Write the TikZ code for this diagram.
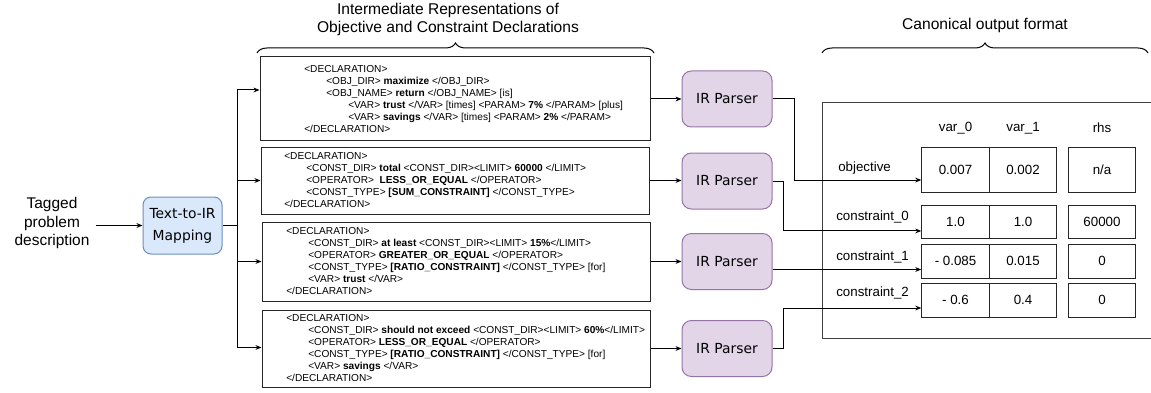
\documentclass[tikz,border=0pt]{standalone}
\usepackage{fontspec}
\setmainfont{Liberation Sans}
\newfontfamily\dvfont{DejaVu Sans}
\usetikzlibrary{arrows.meta,calc,decorations.pathreplacing}
\definecolor{mapfill}{HTML}{DAE8FC}
\definecolor{mapdraw}{HTML}{6C8EBF}
\definecolor{irfill}{HTML}{E1D5E7}
\definecolor{irdraw}{HTML}{9673A6}
\newcommand{\ind}{\hspace*{16.5pt}}
\begin{document}
\begin{tikzpicture}[x=0.75pt,y=-0.75pt,
  declbox/.style={draw=black!85, line width=0.75pt, inner sep=0},
  decltext/.style={anchor=west, align=left, inner sep=0, font=\fontsize{7.6}{9}\selectfont},
  parser/.style={draw=irdraw, fill=irfill, rounded corners=7pt, minimum width=67.5pt, minimum height=42pt, line width=0.75pt, font=\dvfont\fontsize{10.4}{12}\selectfont},
  cell/.style={draw=black!85, line width=0.75pt, minimum width=50.6pt, inner sep=0, font=\fontsize{10}{12}\selectfont},
  lbl/.style={inner sep=0, font=\fontsize{10}{12}\selectfont},
  title/.style={align=center, inner sep=0, font=\fontsize{11.7}{13.5}\selectfont},
  arr/.style={-{Stealth[length=4.5pt,width=3.6pt]}, line width=0.75pt},
  conn/.style={line width=0.75pt},
  bracestyle/.style={decorate, decoration={brace, amplitude=7.5pt}, line width=0.75pt}
]
\clip (0,0) rectangle (1151,392);

% left part
\node[title, font=\fontsize{11.6}{13.9}\selectfont] (tag) at (52,223) {Tagged\\problem\\description};
\node[draw=mapdraw, fill=mapfill, rounded corners=6pt, line width=0.75pt, minimum width=59.25pt, minimum height=42.75pt, align=center, inner sep=0, font=\dvfont\fontsize{10.4}{16.5}\selectfont] (map) at (182.5,225.5) {Text-to-IR\\Mapping};

% IR boxes
\node[declbox, minimum width=292.5pt, minimum height=63pt] (box1) at (455,99) {};
\node[declbox, minimum width=291pt, minimum height=50.25pt] (box2) at (455,180.5) {};
\node[declbox, minimum width=291pt, minimum height=59.25pt] (box3) at (456,261.5) {};
\node[declbox, minimum width=291pt, minimum height=57.75pt] (box4) at (456,348.5) {};

\node[decltext] (t1) at (304,99) {<DECLARATION>\\
\ind <OBJ\_DIR> \textbf{maximize} </OBJ\_DIR>\\
\ind <OBJ\_NAME> \textbf{return} </OBJ\_NAME> [is]\\
\ind\ind <VAR> \textbf{trust} </VAR> [times] <PARAM> \textbf{7\%} </PARAM> [plus]\\
\ind\ind <VAR> \textbf{savings} </VAR> [times] <PARAM> \textbf{2\%} </PARAM>\\
</DECLARATION>};

\node[decltext] (t2) at (284,180.5) {<DECLARATION>\\
\ind <CONST\_DIR> \textbf{total} <CONST\_DIR><LIMIT> \textbf{60000} </LIMIT>\\
\ind <OPERATOR>\ \ \textbf{LESS\_OR\_EQUAL} </OPERATOR>\\
\ind <CONST\_TYPE> \textbf{[SUM\_CONSTRAINT]} </CONST\_TYPE>\\
</DECLARATION>};

\node[decltext] (t3) at (286,261.5) {<DECLARATION>\\
\ind <CONST\_DIR> \textbf{at least} <CONST\_DIR><LIMIT> \textbf{15\%}</LIMIT>\\
\ind <OPERATOR> \textbf{GREATER\_OR\_EQUAL} </OPERATOR>\\
\ind <CONST\_TYPE> \textbf{[RATIO\_CONSTRAINT]} </CONST\_TYPE> [for]\\
\ind <VAR> \textbf{trust} </VAR>\\
</DECLARATION>};

\node[decltext] (t4) at (286,348) {<DECLARATION>\\
\ind <CONST\_DIR> \textbf{should not exceed} <CONST\_DIR><LIMIT> \textbf{60\%}</LIMIT>\\
\ind <OPERATOR> \textbf{LESS\_OR\_EQUAL} </OPERATOR>\\
\ind <CONST\_TYPE> \textbf{[RATIO\_CONSTRAINT]} </CONST\_TYPE> [for]\\
\ind <VAR> \textbf{savings} </VAR>\\
</DECLARATION>};

% titles and braces
\node[title] (ttl1) at (448,19) {Intermediate Representations of\\Objective and Constraint Declarations};
\node[title] (ttl2) at (985,25) {Canonical output format};
\coordinate (b1l) at (257,53);
\coordinate (b1r) at (654,53);
\coordinate (b2l) at (822,53);
\coordinate (b2r) at (1148,53);
\draw[bracestyle] (b1l) -- (b1r);
\draw[bracestyle] (b2l) -- (b2r);

% parsers
\node[parser] (p1) at (727,99) {IR Parser};
\node[parser] (p2) at (727,181) {IR Parser};
\node[parser] (p3) at (727,261.5) {IR Parser};
\node[parser] (p4) at (727,348.5) {IR Parser};

% output frame
\node[draw=black!75, line width=0.75pt, minimum width=253.5pt, minimum height=176.25pt, inner sep=0] (out) at (991,220.5) {};

% table
\node[lbl] (h0) at (955.5,128) {var\_0};
\node[lbl] (h1) at (1023,128) {var\_1};
\node[lbl] (h2) at (1102,128) {rhs};

\node[cell, minimum height=33.75pt] (c00) at (955.5,169.5) {0.007};
\node[cell, minimum height=33.75pt] (c01) at (1023,169.5) {0.002};
\node[cell, minimum height=33.75pt] (c02) at (1102,169.5) {n/a};
\node[cell, minimum height=24.75pt] (c10) at (955.5,221.5) {1.0};
\node[cell, minimum height=24.75pt] (c11) at (1023,221.5) {1.0};
\node[cell, minimum height=24.75pt] (c12) at (1102,221.5) {60000};
\node[cell, minimum height=25.5pt] (c20) at (955.5,261) {- 0.085};
\node[cell, minimum height=25.5pt] (c21) at (1023,261) {0.015};
\node[cell, minimum height=25.5pt] (c22) at (1102,261) {0};
\node[cell, minimum height=25.5pt] (c30) at (955.5,300) {- 0.6};
\node[cell, minimum height=25.5pt] (c31) at (1023,300) {0.4};
\node[cell, minimum height=25.5pt] (c32) at (1102,300) {0};

\node[lbl, anchor=west] (r0) at (838,168) {objective};
\node[lbl, anchor=west] (r1) at (836,217) {constraint\_0};
\node[lbl, anchor=west] (r2) at (836,257) {constraint\_1};
\node[lbl, anchor=west] (r3) at (836,293) {constraint\_2};

% connectors
\coordinate (j) at (237,225.5);
\draw[arr] ($(tag.east |- map.west)+(6,0)$) -- (map.west);
\draw[conn] (map.east) -- (j);
\draw[arr] (j) |- ([yshift=6.75pt]box1.west);
\draw[arr] (j) |- (box2.west);
\draw[arr] (j) |- (box3.west);
\draw[arr] (j) |- ([yshift=0.75pt]box4.west);

\draw[arr] (box1.east) -- (p1.west);
\draw[arr] (box2.east) -- (box2.east -| p2.west);
\draw[arr] (box3.east) -- (box3.east -| p3.west);
\draw[arr] (box4.east) -- (box4.east -| p4.west);

\draw[arr] (p1.east) -- ++(22,0) |- ([yshift=-7.9pt]c00.west);
\draw[arr] (p2.east) -- ++(11,0) |- ([yshift=-7.1pt]c10.west);
\draw[arr] ([yshift=-6pt]p3.east) -- ([yshift=-6pt]p3.east -| c20.west);
\draw[arr] (p4.east) -- ++(11,0) |- ([yshift=-6pt]c30.west);
\end{tikzpicture}
\end{document}
